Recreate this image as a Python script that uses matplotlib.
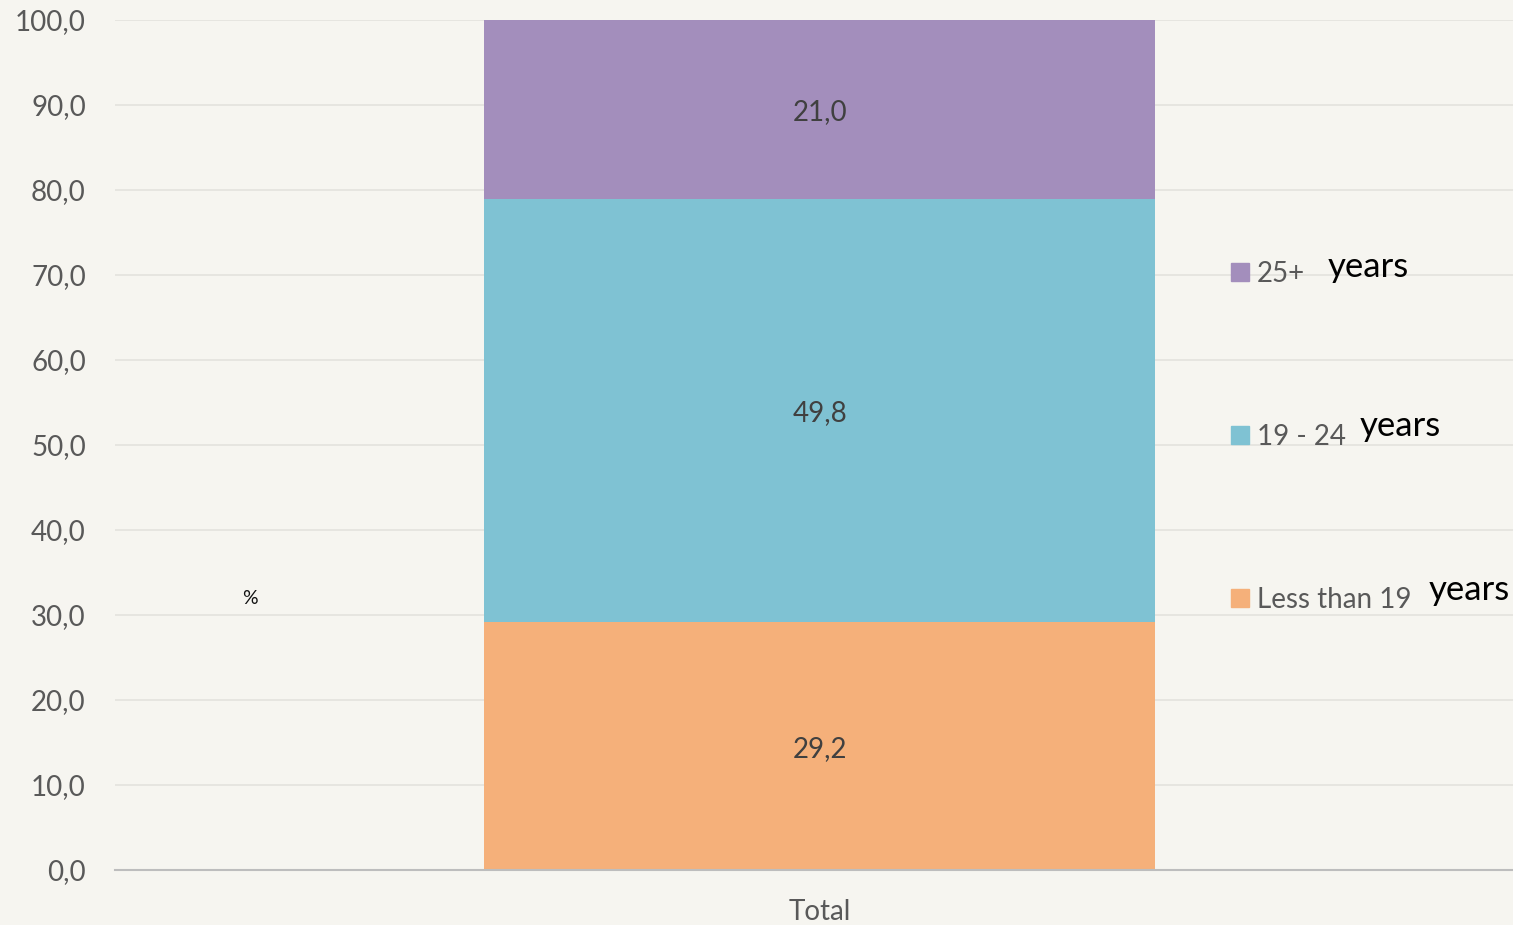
import matplotlib.pyplot as plt
from matplotlib.patches import Rectangle
from matplotlib.transforms import offset_copy

plt.rcParams['font.family'] = ['Lato', 'DejaVu Sans']

categories = ["Total"]
series_names = ["Less than 19", "19 - 24", "25+"]
series_values = [[29.2], [49.8], [21.0]]
series_colors = ["#F5B07A", "#7FC2D3", "#A38EBC"]
value_labels = [["29,2"], ["49,8"], ["21,0"]]
yticks = [0, 10, 20, 30, 40, 50, 60, 70, 80, 90, 100]
ytick_labels = ["0,0", "10,0", "20,0", "30,0", "40,0", "50,0", "60,0", "70,0", "80,0", "90,0", "100,0"]

W, H = 1513, 925
bg = "#F6F5F0"
fig = plt.figure(figsize=(W / 100, H / 100), dpi=100, facecolor=bg)
ax = fig.add_axes([115 / W, 55 / H, 1398 / W, 850 / H])
ax.set_facecolor(bg)

label_tr = offset_copy(ax.transData, fig=fig, x=0, y=-3, units="dots")
x = list(range(len(categories)))
bottom = [0.0] * len(categories)
for vals, col, labs in zip(series_values, series_colors, value_labels):
    bars = ax.bar(x, vals, width=0.48, bottom=bottom, color=col, zorder=2)
    for b, v, lab, bt in zip(bars, vals, labs, bottom):
        ax.text(b.get_x() + b.get_width() / 2, bt + v / 2, lab, transform=label_tr,
                ha="center", va="center", fontsize=20, color="#404040", zorder=3)
    bottom = [bt + v for bt, v in zip(bottom, vals)]

ax.set_xlim(-0.504, 0.496)
ax.set_ylim(0, 100)
ax.set_yticks(yticks)
ax.set_yticklabels(ytick_labels, fontsize=20, color="#595959")
ax.set_xticks(x)
ax.set_xticklabels(categories, fontsize=20, color="#595959")
ax.tick_params(axis="both", length=0)
ax.tick_params(axis="y", pad=21)
ax.tick_params(axis="x", pad=21)
ax.yaxis.grid(True, color="#E3E2DD", linewidth=1.2, zorder=0)
for s in ["top", "right", "left"]:
    ax.spines[s].set_visible(False)
ax.spines["bottom"].set_color("#BDBDBD")
ax.spines["bottom"].set_linewidth(1.5)

fig.text(250 / W, (H - 598) / H, "%", fontsize=14, color="#111111",
         ha="center", va="center")

# legend entries, drawn top-down
legend_rows = [("25+", 272, 1328, 267), ("19 - 24", 435, 1360, 426), ("Less than 19", 598, 1429, 590)]
name_to_color = dict(zip(series_names, series_colors))
for name, ypix, yx, yy in legend_rows:
    fig.add_artist(Rectangle((1231 / W, (H - ypix - 9) / H), 18 / W, 18 / H,
                             transform=fig.transFigure, color=name_to_color[name]))
    fig.text(1257 / W, (H - ypix - 2) / H, name, fontsize=20, color="#595959",
             ha="left", va="center")
    fig.text(yx / W, (H - yy) / H, "years", fontsize=25, color="black",
             ha="left", va="center")

fig.savefig("out.png", dpi=100, facecolor=bg)
